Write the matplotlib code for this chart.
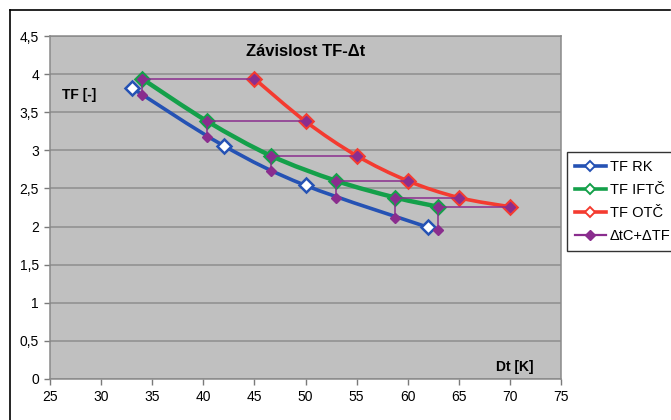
import numpy as np
import matplotlib
matplotlib.use("Agg")
import matplotlib.pyplot as plt
from matplotlib.path import Path
from matplotlib.patches import PathPatch
from matplotlib.lines import Line2D

plt.rcParams['font.family'] = ['Liberation Sans', 'DejaVu Sans']

# --- data -----------------------------------------------------------------
dt_rk = [33, 42, 50, 62]
tf_rk = [3.82, 3.06, 2.54, 1.99]

dt_iftc = [34, 40.4, 46.6, 53, 58.8, 63]
tf_iftc = [3.94, 3.38, 2.93, 2.60, 2.38, 2.26]

dt_otc = [45, 50, 55, 60, 65, 70]
tf_otc = [3.94, 3.38, 2.93, 2.60, 2.38, 2.26]

# ΔtC+ΔTF steps start on the RK curve at the IFTČ temperature differences
tf_step_low = [3.72, 3.18, 2.73, 2.37, 2.11, 1.96]

x_ticks = [25, 30, 35, 40, 45, 50, 55, 60, 65, 70, 75]
y_ticks = [0, 0.5, 1, 1.5, 2, 2.5, 3, 3.5, 4, 4.5]
y_tick_labels = ["0", "0,5", "1", "1,5", "2", "2,5", "3", "3,5", "4", "4,5"]

series_names = ["TF RK", "TF IFTČ", "TF OTČ", "ΔtC+ΔTF"]
title = "Závislost TF-Δt"

# --- styles ---------------------------------------------------------------
c_blue = "#2552b4"
c_green = "#14a04a"
c_red = "#f43b30"
c_purple = "#8a2d8e"
plot_bg = "#c0c0c0"
grid_c = "#8e8e8e"


def smooth_path(xs, ys):
    """Catmull-Rom style Bezier path through the given points."""
    pts = np.column_stack([xs, ys]).astype(float)
    n = len(pts)
    verts = [pts[0]]
    codes = [Path.MOVETO]
    for i in range(n - 1):
        p0 = pts[i - 1] if i > 0 else pts[i]
        p1 = pts[i]
        p2 = pts[i + 1]
        p3 = pts[i + 2] if i + 2 < n else pts[i + 1]
        verts += [p1 + (p2 - p0) / 6.0, p2 - (p3 - p1) / 6.0, p2]
        codes += [Path.CURVE4] * 3
    return Path(verts, codes)


fig = plt.figure(figsize=(6.71, 4.20), dpi=100)
fig.patch.set_facecolor("white")
ax = fig.add_axes([50 / 671, 1 - 379 / 420, 511 / 671, 343 / 420])
ax.set_facecolor(plot_bg)

ax.set_xlim(25, 75)
ax.set_ylim(0, 4.5)
ax.set_xticks(x_ticks)
ax.set_yticks(y_ticks)
ax.set_yticklabels(y_tick_labels)
ax.tick_params(axis="both", direction="out", length=4, width=1, color="#7a7a7a",
               labelsize=10, pad=4)
ax.yaxis.grid(True, color=grid_c, linewidth=1.1)
ax.set_axisbelow(True)
for side in ["left", "right", "top", "bottom"]:
    ax.spines[side].set_color("#8a8a8a")
    ax.spines[side].set_linewidth(1.1)

# smoothed series lines
for xs, ys, col, lw in [(dt_rk, tf_rk, c_blue, 2.6),
                        (dt_iftc, tf_iftc, c_green, 3.2),
                        (dt_otc, tf_otc, c_red, 2.6)]:
    ax.add_patch(PathPatch(smooth_path(xs, ys), facecolor="none", edgecolor=col,
                           lw=lw, capstyle="round", joinstyle="round", zorder=3))

ax.plot(dt_rk, tf_rk, ls="none", marker="D", ms=7, mfc="white", mec=c_blue,
        mew=1.8, zorder=4)
ax.plot(dt_iftc, tf_iftc, ls="none", marker="D", ms=7.2, mfc="white", mec=c_green,
        mew=1.8, zorder=4)
ax.plot(dt_otc, tf_otc, ls="none", marker="D", ms=7.2, mfc="white", mec=c_red,
        mew=1.8, zorder=4)

# ΔtC+ΔTF steps: vertical from RK curve to IFTČ, then horizontal to OTČ
for x0, y0, y1, x1 in zip(dt_iftc, tf_step_low, tf_iftc, dt_otc):
    ax.plot([x0, x0, x1], [y0, y1, y1], color=c_purple, lw=1.1, marker="D",
            ms=5, mfc=c_purple, mec=c_purple, zorder=5)

ax.text(0.5, 0.955, title, transform=ax.transAxes, ha="center", va="center",
        fontsize=12, fontweight="bold")
ax.text(26.2, 3.73, "TF [-]", ha="left", va="center", fontsize=10,
        fontweight="bold")
ax.text(72.3, 0.16, "Dt [K]", ha="right", va="center", fontsize=10,
        fontweight="bold")

handles = [
    Line2D([], [], color=c_blue, lw=2.6, marker="D", ms=5.5, mfc="white", mec=c_blue, mew=1.4),
    Line2D([], [], color=c_green, lw=2.6, marker="D", ms=5.5, mfc="white", mec=c_green, mew=1.4),
    Line2D([], [], color=c_red, lw=2.6, marker="D", ms=5.5, mfc="white", mec=c_red, mew=1.4),
    Line2D([], [], color=c_purple, lw=1.6, marker="D", ms=5.5, mfc=c_purple, mec=c_purple),
]
leg = fig.legend(handles, series_names, loc="upper left",
                 bbox_to_anchor=(567 / 671, 1 - 152 / 420),
                 bbox_transform=fig.transFigure, borderaxespad=0,
                 fontsize=10.5, frameon=True, fancybox=False, edgecolor="black",
                 handlelength=2.1, handletextpad=0.3, labelspacing=0.62,
                 borderpad=0.55)
leg.get_frame().set_linewidth(1.0)

# outer chart frame
fig.add_artist(Line2D([9.5 / 671, 9.5 / 671], [0, 1 - 10 / 420],
                      transform=fig.transFigure, color="black", lw=1.2))
fig.add_artist(Line2D([9.5 / 671, 670 / 671], [1 - 10 / 420, 1 - 10 / 420],
                      transform=fig.transFigure, color="black", lw=1.2))

fig.savefig("out.png", dpi=100)
